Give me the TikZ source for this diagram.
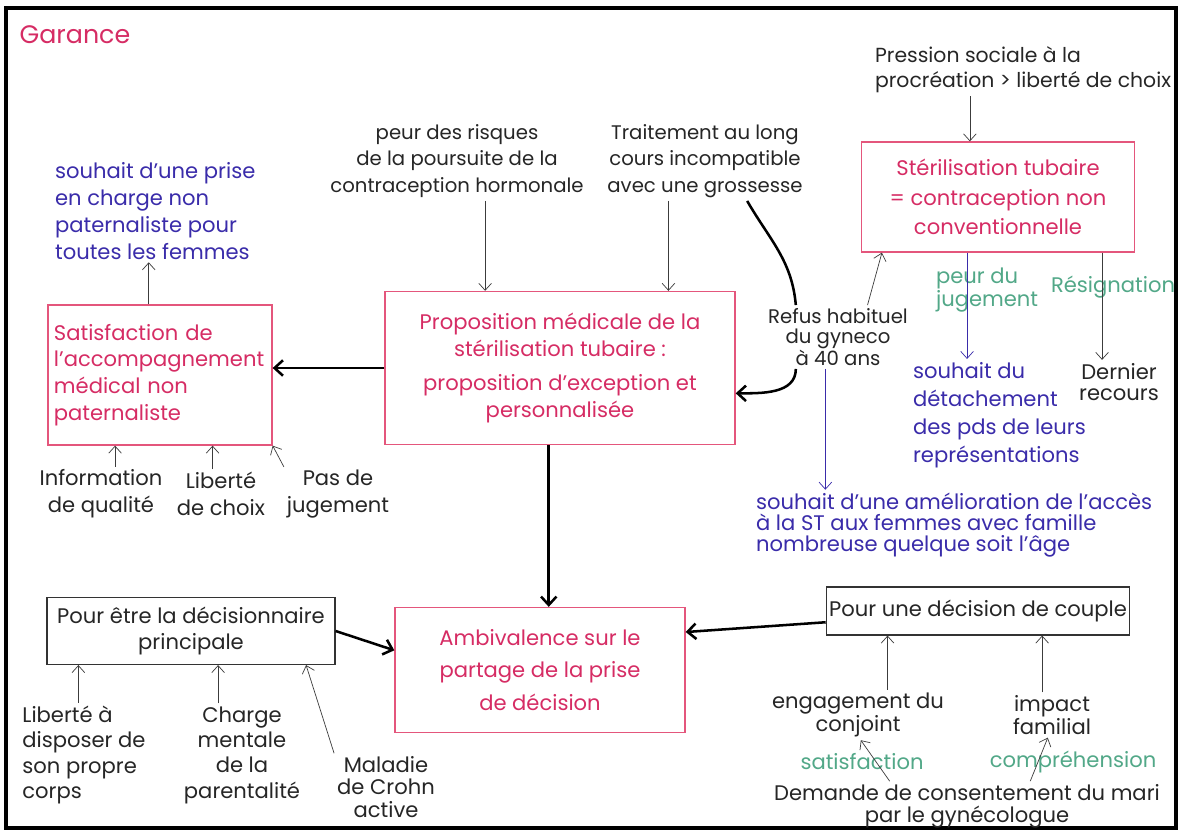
\documentclass[tikz,border=0pt]{standalone}
\usepackage{fontspec}
\setmainfont{Poppins}
\usepackage{tikz}
\usetikzlibrary{arrows.meta,positioning}
\definecolor{rose}{RGB}{214,44,100}
\definecolor{roseline}{RGB}{228,86,124}
\definecolor{encre}{RGB}{58,44,170}
\definecolor{vert}{RGB}{82,168,136}
\definecolor{mine}{RGB}{60,60,60}

\begin{document}
\begin{tikzpicture}[x=0.025cm, y=-0.025cm,
  every node/.style={font=\fontsize{15}{19}\selectfont, inner sep=2pt, align=center, text=black!85},
  boite/.style={draw=roseline, line width=0.9pt, text=rose},
  cadre/.style={draw=black!80, line width=0.8pt},
  fin/.style={draw=mine, line width=0.5pt, -{Straight Barb[length=5pt,width=9pt]}},
  gros/.style={line width=1.8pt, -{Straight Barb[length=6pt,width=11pt]}},
  bleu/.style={text=encre},
  vertt/.style={text=vert}]
\useasboundingbox (0,0) rectangle (1184,833);
\fill[white] (0,0) rectangle (1184,833);
\draw[line width=2.2pt] (6,8) rectangle (1176,828);

\node[text=rose, font=\fontsize{18}{20}\selectfont] (garance) at (75,35) {Garance};
\node[bleu, align=left, anchor=west] (souhaitA) at (52,211) {souhait d'une prise\\en charge non\\paternaliste pour\\toutes les femmes};
\node[boite, minimum width=5.6cm, minimum height=3.5cm, text width=5.3cm, align=left] (sat) at (160,375) {Satisfaction de\\l'accompagnement\\médical non\\paternaliste};
\node (info) at (101,494) {Information\\de qualité};
\node (libchoix) at (221,494) {Liberté\\de choix};
\node (pasjug) at (338,494) {Pas de\\jugement};

\node[font=\fontsize{14}{19}\selectfont] (peur) at (457,161) {peur des risques\\de la poursuite de la\\contraception hormonale};
\node[font=\fontsize{14}{19}\selectfont] (traitement) at (705,161) {Traitement au long\\cours incompatible\\avec une grossesse};
\node[boite, minimum width=8.75cm, minimum height=3.825cm] (prop) at (560,368) {Proposition médicale de la\\stérilisation tubaire :\\[5pt]proposition d'exception et\\personnalisée};
\node[font=\fontsize{14}{14.5}\selectfont] (refus) at (838,337) {Refus habituel\\du gyneco\\à 40 ans};

\node[align=left, anchor=west, font=\fontsize{14.5}{18}\selectfont] (pression) at (872,70) {Pression sociale à la\\procréation > liberté de choix};
\node[boite, minimum width=6.825cm, minimum height=2.75cm, font=\fontsize{15}{21}\selectfont] (steril) at (998,197) {Stérilisation tubaire\\= contraception non\\conventionnelle};
\node[vertt, align=left, anchor=west, font=\fontsize{15}{17}\selectfont] (peurjug) at (933,290) {peur du\\jugement};
\node[vertt] (resig) at (1113,287) {Résignation};
\node[bleu, align=left, anchor=west, font=\fontsize{15}{20}\selectfont] (souhaitB) at (910,415) {souhait du\\détachement\\des pds de leurs\\représentations};
\node[font=\fontsize{15}{15.5}\selectfont] (dernier) at (1119,382) {Dernier\\recours};
\node[bleu, align=left, anchor=west, font=\fontsize{15}{15}\selectfont] (souhaitC) at (753,525) {souhait d'une amélioration de l'accès\\à la ST aux femmes avec famille\\nombreuse quelque soit l'âge};

\node[cadre, minimum width=7.2cm, minimum height=1.675cm, font=\fontsize{15}{18.5}\selectfont] (pourEtre) at (191,631) {Pour être la décisionnaire\\principale};
\node[align=left, font=\fontsize{15}{18}\selectfont] (liberte) at (84,755) {Liberté à\\disposer de\\son propre\\corps};
\node[font=\fontsize{15}{18}\selectfont] (charge) at (242,755) {Charge\\mentale\\de la\\parentalité};
\node[font=\fontsize{15}{16}\selectfont] (maladie) at (386,787) {Maladie\\de Crohn\\active};
\node[boite, minimum width=7.25cm, minimum height=3.125cm, font=\fontsize{15}{23}\selectfont] (ambi) at (540,670) {Ambivalence sur le\\partage de la prise\\de décision};

\node[cadre, minimum width=7.575cm, minimum height=1.2cm] (couple) at (978,611) {Pour une décision de couple};
\node[font=\fontsize{15}{14.5}\selectfont] (engag) at (858,715) {engagement du\\conjoint};
\node[font=\fontsize{15}{14.5}\selectfont] (impact) at (1052,715) {impact\\familial};
\node[vertt] (satisf) at (862,762) {satisfaction};
\node[vertt] (compr) at (1073,762) {compréhension};
\node[font=\fontsize{15}{15.5}\selectfont] (demande) at (967,806) {Demande de consentement du mari\\par le gynécologue};

\draw[fin] ([xshift=-8pt]sat.north) -- ([xshift=-8pt]sat.north |- souhaitA.south);
\draw[fin] ([xshift=10pt]info.north) -- ([xshift=10pt]info.north |- sat.south);
\draw[fin] ([xshift=-6pt]libchoix.north) -- ([xshift=-6pt]libchoix.north |- sat.south);
\draw[fin] (pasjug.north west) -- (sat.south east);
\draw[gros] (prop.west) -- (prop.west -| sat.east);
\draw[fin] ([xshift=20pt]peur.south) -- ([xshift=20pt]peur.south |- prop.north);
\draw[fin] ([xshift=-26pt]traitement.south) -- ([xshift=-26pt]traitement.south |- prop.north);
\draw[line width=1.8pt] ([xshift=30pt]traitement.south) to[out=-60,in=95] ([xshift=-30pt]refus.north);
\draw[gros] ([xshift=-30pt]refus.south) to[out=-90,in=0] ([yshift=-18pt]prop.east);
\draw[fin] ([xshift=21pt]refus.north) -- ([xshift=15pt]steril.south west);
\draw[fin, draw=encre] ([xshift=-9pt]refus.south) -- ([xshift=-9pt]refus.south |- souhaitC.north);
\draw[fin] ([xshift=-20pt]steril.north |- pression.south) -- ([xshift=-20pt]steril.north);
\draw[fin, draw=encre] ([xshift=-22pt]steril.south) -- ([xshift=-22pt]steril.south |- souhaitB.north);
\draw[fin] ([xshift=74pt]steril.south) -- ([xshift=74pt]steril.south |- dernier.north);
\draw[gros] ([xshift=-8pt]prop.south) -- ([xshift=-8pt]prop.south |- ambi.north);
\draw[gros] (pourEtre.east) -- ([yshift=14pt]ambi.west);
\draw[fin] ([xshift=-4pt]liberte.north) -- ([xshift=-4pt]liberte.north |- pourEtre.south);
\draw[fin] ([xshift=-17pt]charge.north) -- ([xshift=-17pt]charge.north |- pourEtre.south);
\draw[fin] (maladie.north west) -- ([xshift=-21pt]pourEtre.south east);
\draw[gros] ([yshift=-8pt]couple.west) -- ([yshift=27pt]ambi.east);
\draw[fin] ([xshift=21pt]engag.north) -- ([xshift=21pt]engag.north |- couple.south);
\draw[fin] ([xshift=-7pt]impact.north) -- ([xshift=-7pt]impact.north |- couple.south);
\draw[fin] ([xshift=-55pt]demande.north) -- ([xshift=2pt]engag.south);
\draw[fin] ([xshift=45pt]demande.north) -- ([xshift=-3pt]impact.south);
\end{tikzpicture}
\end{document}
